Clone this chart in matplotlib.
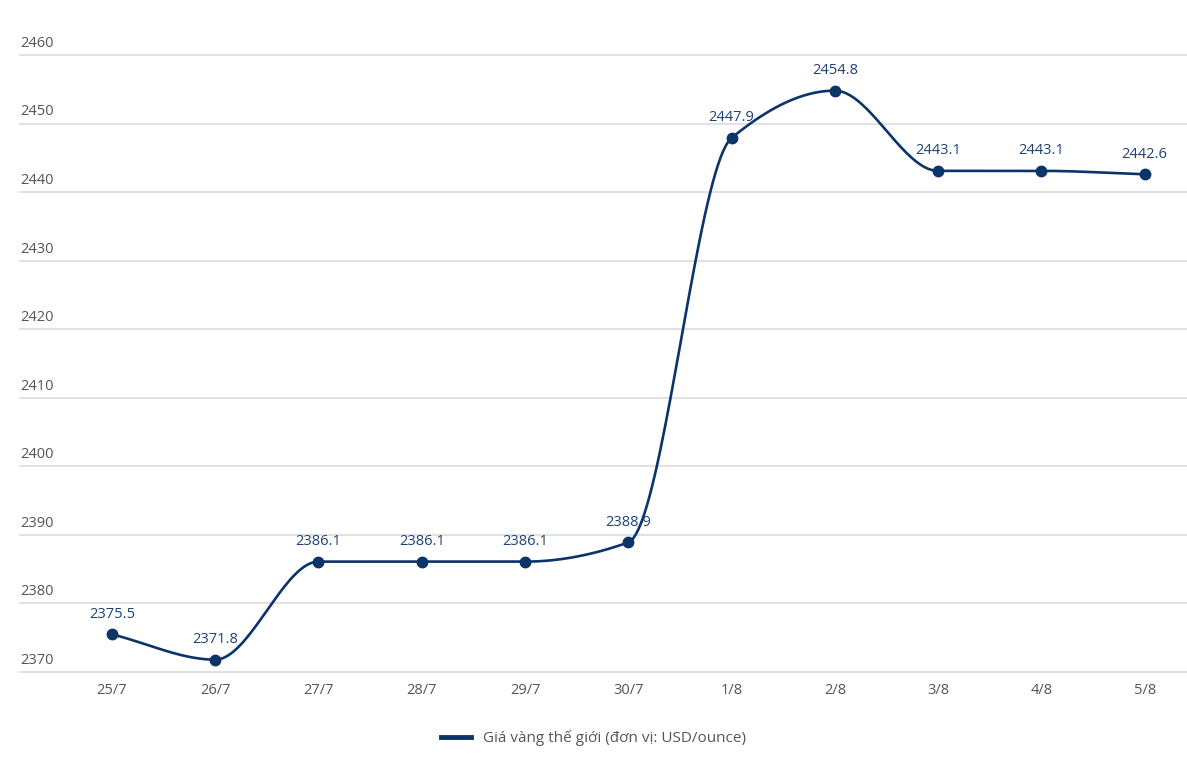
import matplotlib
matplotlib.use("Agg")
import matplotlib.pyplot as plt
import numpy as np
from matplotlib.lines import Line2D

plt.rcParams['font.family'] = ['Open Sans', 'DejaVu Sans']

# data
dates = ['25/7', '26/7', '27/7', '28/7', '29/7', '30/7', '1/8', '2/8', '3/8', '4/8', '5/8']
prices = [2375.5, 2371.8, 2386.1, 2386.1, 2386.1, 2388.9, 2447.9, 2454.8, 2443.1, 2443.1, 2442.6]
y_ticks = [2370, 2380, 2390, 2400, 2410, 2420, 2430, 2440, 2450, 2460]
legend_label = 'Giá vàng thế giới (đơn vị: USD/ounce)'

navy = '#0b3469'
label_col = '#1d4274'


# monotone cubic curve through the points (Fritsch-Carlson)
def monotone_curve(x, y, n=40):
    x = np.asarray(x, float)
    y = np.asarray(y, float)
    h = np.diff(x)
    d = np.diff(y) / h
    m = np.zeros_like(y)
    m[0], m[-1] = d[0], d[-1]
    for i in range(1, len(y) - 1):
        if d[i - 1] * d[i] <= 0:
            m[i] = 0
        else:
            w1 = 2 * h[i] + h[i - 1]
            w2 = h[i] + 2 * h[i - 1]
            m[i] = (w1 + w2) / (w1 / d[i - 1] + w2 / d[i])
    xs, ys = [], []
    for i in range(len(x) - 1):
        t = np.linspace(0, 1, n)
        h00 = 2 * t**3 - 3 * t**2 + 1
        h10 = t**3 - 2 * t**2 + t
        h01 = -2 * t**3 + 3 * t**2
        h11 = t**3 - t**2
        xs.append(x[i] + t * h[i])
        ys.append(h00 * y[i] + h10 * h[i] * m[i] + h01 * y[i + 1] + h11 * h[i] * m[i + 1])
    return np.concatenate(xs), np.concatenate(ys)


x_pos = np.arange(len(dates))

fig = plt.figure(figsize=(11.87, 7.68), dpi=100)
ax = fig.add_axes([20 / 1187, 96 / 768, 1 - 20 / 1187, (672 - 55) / 768])

cx, cy = monotone_curve(x_pos, prices)
ax.plot(cx, cy, color=navy, linewidth=1.9, zorder=3, clip_on=False)
ax.plot(x_pos, prices, 'o', color=navy, markersize=7.5, zorder=4, clip_on=False)

for xp, p in zip(x_pos, prices):
    ax.annotate(f'{p:.1f}', (xp, p), xytext=(0, 9), textcoords='offset points',
                ha='center', va='bottom', fontsize=10.5, color=label_col, zorder=5)

ax.set_xlim(-0.89, 10.41)
ax.set_ylim(2370, 2460)

# gridlines with labels sitting above them
for yt in y_ticks:
    ax.axhline(yt, color='#dcdcdc', linewidth=1.2, zorder=1, clip_on=False)
    ax.annotate(str(yt), (0, yt), xycoords=('axes fraction', 'data'),
                xytext=(0, 3), textcoords='offset points',
                ha='left', va='bottom', fontsize=10.5, color='#555555')

ax.set_yticks([])
ax.set_xticks(x_pos)
ax.set_xticklabels(dates, fontsize=10.5, color='#555555')
ax.tick_params(axis='x', length=0, pad=8)
for s in ax.spines.values():
    s.set_visible(False)

handle = Line2D([0], [0], color=navy, linewidth=3.5)
fig.legend([handle], [legend_label], loc='center', bbox_to_anchor=(0.5, 1 - 738 / 768),
           frameon=False, fontsize=11, labelcolor='#555555', handlelength=2)

fig.savefig('out.png', dpi=100)
